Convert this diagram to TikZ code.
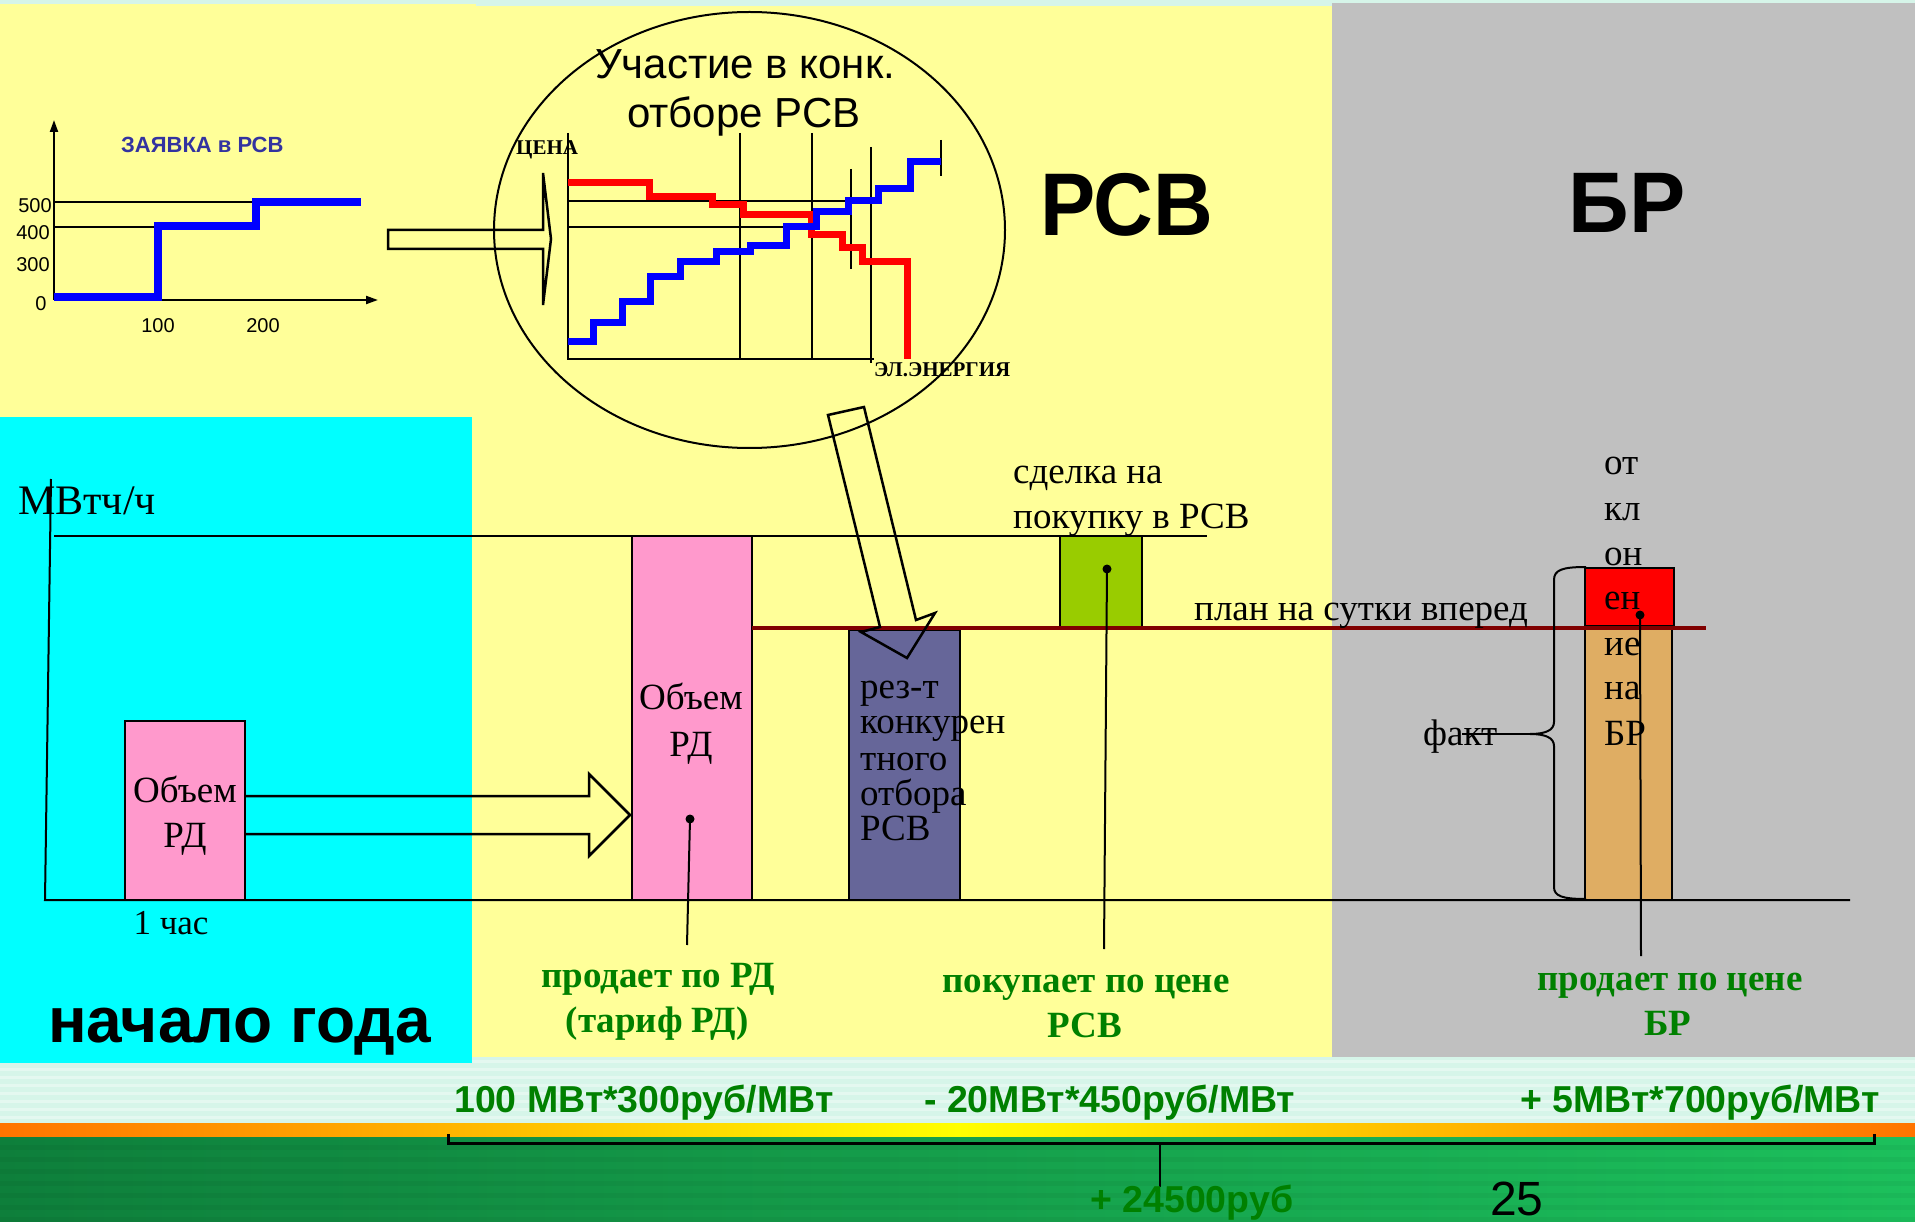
\documentclass[tikz,border=0pt]{standalone}
\usepackage{fontspec}
\usepackage{graphicx}
\setmainfont{Liberation Serif}
\newfontfamily\arialf{Liberation Sans}
\usetikzlibrary{arrows.meta}
\newcommand\fsz[1]{\fontsize{#1}{#1}\selectfont}
\definecolor{bgyellow}{HTML}{FFFF99}
\definecolor{bggrey}{HTML}{C0C0C0}
\definecolor{bgcyan}{HTML}{00FFFF}
\definecolor{bgmint}{HTML}{D6F5E9}
\definecolor{rdpink}{HTML}{FF99CC}
\definecolor{rsvpurple}{HTML}{666699}
\definecolor{dealgreen}{HTML}{99CC00}
\definecolor{factan}{HTML}{DFAD63}
\definecolor{planred}{HTML}{800000}
\definecolor{txtgreen}{HTML}{008000}
\definecolor{bidblue}{HTML}{0000FF}
\definecolor{titleblue}{HTML}{3333A0}
\definecolor{slgreenL}{HTML}{0E7F3B}
\definecolor{slgreenR}{HTML}{1CC05C}
\definecolor{bandorange}{HTML}{FF7400}
\begin{document}
\begin{tikzpicture}[x=1pt,y=-1pt,
  lbl/.style={inner sep=0pt, anchor=base},
  lblw/.style={inner sep=0pt, anchor=base west},
  serif/.style={font=\fsz{37}},
  greenlbl/.style={lbl, text=txtgreen, font=\bfseries\fsz{37}},
  sumlbl/.style={lblw, text=txtgreen, font=\arialf\bfseries\fsz{37.5}},
  thinl/.style={line width=2pt},
  hollow/.style={draw, line width=2.5pt, line join=miter},
  bar/.style={draw, line width=2pt, inner sep=0pt},
  stepline/.style={line width=7pt, line join=miter},
  axarrow/.style={line width=2pt, -{Triangle[length=12pt,width=8pt]}}
]
\useasboundingbox (0,0) rectangle (1915,1222);
% ---------- background
\fill[bgmint] (0,0) rectangle (1915,1123);
\foreach \yy in {1060,1068,...,1120} \fill[white,opacity=0.35] (0,\yy) rectangle (1915,\yy+3);
\shade[left color=bandorange, right color=bandorange, middle color=yellow] (0,1123) rectangle (1915,1137);
\shade[left color=slgreenL, right color=slgreenR] (0,1137) rectangle (1915,1222);
\foreach \yy in {1145,1157,...,1220} \fill[black,opacity=0.04] (0,\yy) rectangle (1915,\yy+5);
\fill[bgyellow] (0,4) rectangle (476,417);
\fill[bgyellow] (472,6) rectangle (1332,1057);
\fill[bggrey] (1332,3) rectangle (1915,1057);
\fill[bgcyan] (0,417) rectangle (472,1063);

% ---------- top-left bid chart
\draw[axarrow] (54,300) -- (54,120);
\draw[axarrow] (54,300) -- (378,300);
\draw[thinl] (54,202) -- (262,202);
\draw[thinl] (54,227) -- (159,227);
\draw[bidblue, line width=8pt, line join=miter] (54,297) -- (158,297) -- (158,226) -- (256,226) -- (256,202) -- (361,202);
\node[lblw, text=titleblue, font=\arialf\bfseries\fsz{22}] (bidtitle) at (121,153) {ЗАЯВКА в РСВ};
\node[lbl, font=\arialf\fsz{20}] (y500) at (35,213) {500};
\node[lbl, font=\arialf\fsz{20}] (y400) at (33,240) {400};
\node[lbl, font=\arialf\fsz{20}] (y300) at (33,272) {300};
\node[lbl, font=\arialf\fsz{20}] (y0) at (41,311) {0};
\node[lbl, font=\arialf\fsz{20}] (x100) at (158,333) {100};
\node[lbl, font=\arialf\fsz{20}] (x200) at (263,333) {200};

% ---------- ellipse with auction chart
\draw[line width=2pt] (749.5,230) ellipse [x radius=255.5pt, y radius=218pt];
\node[lblw, font=\arialf\fsz{42}] (title1) at (595,79) {Участие в конк.};
\node[lblw, font=\arialf\fsz{42}] (title2) at (627,128) {отборе РСВ};
\draw[thinl] (568,133) -- (568,359) -- (874,359);
\draw[thinl] (740,133) -- (740,359);
\draw[thinl] (812,133) -- (812,359);
\draw[thinl] (851,169) -- (851,269);
\draw[thinl] (871,147) -- (871,363);
\draw[thinl] (941,140) -- (941,176);
\draw[thinl] (568,201) -- (848,201);
\draw[thinl] (568,227) -- (788,227);
\draw[red, stepline] (568,183) -- (649,183) -- (649,197) -- (712,197) -- (712,205) -- (743,205) -- (743,215) -- (811,215) -- (811,235) -- (842,235) -- (842,248) -- (862,248) -- (862,262) -- (907,262) -- (907,359);
\draw[bidblue, stepline] (568,342) -- (593,342) -- (593,323) -- (622,323) -- (622,302) -- (650,302) -- (650,277) -- (680,277) -- (680,262) -- (716,262) -- (716,252) -- (750,252) -- (750,246) -- (786,246) -- (786,227) -- (816,227) -- (816,212) -- (848,212) -- (848,201) -- (878,201) -- (878,189) -- (910,189) -- (910,162) -- (941,162);
\node[lblw, font=\bfseries\fsz{21}] (price) at (516,155) {ЦЕНА};
\node[lblw, font=\bfseries\fsz{21}] (energy) at (874,377) {ЭЛ.ЭНЕРГИЯ};
\draw[hollow] (388,230) -- (543,230) -- (543,173) -- (551,239) -- (543,305) -- (543,249) -- (388,249) -- cycle;

% ---------- section titles
\node[inner sep=0pt] (rsvhead) at (1127,205) {\scalebox{0.93}[1]{\arialf\bfseries\fsz{89}РСВ}};
\node[inner sep=0pt] (brhead) at (1627,203) {\scalebox{0.98}[1]{\arialf\bfseries\fsz{86}БР}};

% ---------- main chart
\draw[thinl] (51,479) -- (45,900) -- (1850,900);
\draw[thinl] (54,536) -- (1207,536);
\node[lblw, font=\fsz{42}] (unit) at (18,514) {МВтч/ч};

\node[bar, fill=rdpink, minimum width=120pt, minimum height=179pt] (rdsmall) at (185,810.5) {};
\node[bar, fill=rdpink, minimum width=120pt, minimum height=364pt] (rdbig) at (692,718) {};
\node[bar, fill=rsvpurple, minimum width=111pt, minimum height=270pt] (rsvres) at (904.5,765) {};
\node[bar, fill=dealgreen, minimum width=82pt, minimum height=92pt] (deal) at (1101,582) {};
\node[bar, fill=red, minimum width=89pt, minimum height=58pt] (dev) at (1629.5,597) {};
\node[bar, fill=factan, minimum width=87pt, minimum height=272pt] (fact) at (1628.5,764) {};

\draw[planred, line width=4.5pt] (752,628) -- (1706,628);

\node[lbl, font=\fsz{37}] (rs1) at (185,802) {Объем};
\node[lbl, font=\fsz{37}] (rs2) at (185,847) {РД};
\node[lbl, font=\fsz{37}] (rb1) at (691,709) {Объем};
\node[lbl, font=\fsz{37}] (rb2) at (691,756) {РД};
\node[lbl, font=\fsz{35}] (hour) at (171,934) {1 час};

\node[lblw, serif] (p1) at (860,698) {рез-т};
\node[lblw, serif] (p2) at (860,733) {конкурен};
\node[lblw, serif] (p3) at (860,770) {тного};
\node[lblw, serif] (p4) at (860,805) {отбора};
\node[lblw, serif] (p5) at (860,840) {РСВ};

\node[lblw, serif] (deal1) at (1013,483) {сделка на};
\node[lblw, serif] (deal2) at (1013,528) {покупку в РСВ};
\node[lblw, serif] (plan) at (1194,620) {план на сутки вперед};
\node[lblw, serif] (facttxt) at (1423,745) {факт};

\node[lblw, serif] (v1) at (1604,475) {от};
\node[lblw, serif] (v2) at (1604,520) {кл};
\node[lblw, serif] (v3) at (1604,565) {он};
\node[lblw, serif] (v4) at (1604,609) {ен};
\node[lblw, serif] (v5) at (1604,655) {ие};
\node[lblw, serif] (v6) at (1604,699) {на};
\node[lblw, serif] (v7) at (1604,745) {БР};

% hollow arrows
\draw[hollow] (245,796) -- (589,796) -- (589,774) -- (630,815) -- (589,856) -- (589,834) -- (245,834);
\draw[hollow] (828,415) -- (864,407) -- (916,620) -- (935,613) -- (907,658) -- (861,632) -- (880,627) -- cycle;

% brace "факт"
\coordinate (bracetip) at (1530,734);
\coordinate (factend) at (1462,734);
\draw[thinl] (1586,567) .. controls (1562,567) and (1554,570) .. (1554,580) -- (1554,722) .. controls (1554,730) and (1546,734) .. (bracetip) .. controls (1546,734) and (1554,738) .. (1554,746) -- (1554,887) .. controls (1554,896) and (1562,899) .. (1586,899);
\draw[thinl] (factend) -- (bracetip);

% dots and leader lines
\coordinate (dotA) at (690,819);
\coordinate (endA) at (687,945);
\coordinate (dotB) at (1107,569);
\coordinate (endB) at (1104,949);
\coordinate (dotC) at (1640,615);
\coordinate (endC) at (1641,956);
\fill (dotA) circle [radius=4.5pt];
\fill (dotB) circle [radius=4.5pt];
\fill (dotC) circle [radius=4.5pt];
\draw[thinl] (dotA) -- (endA);
\draw[thinl] (dotB) -- (endB);
\draw[thinl] (dotC) -- (endC);

\node[greenlbl] (g1a) at (658,987) {продает по РД};
\node[greenlbl] (g1b) at (657,1032) {(тариф РД)};
\node[greenlbl] (g2a) at (1086,992) {покупает по цене};
\node[greenlbl] (g2b) at (1085,1037) {РСВ};
\node[greenlbl] (g3a) at (1670,990) {продает по цене};
\node[greenlbl] (g3b) at (1668,1035) {БР};

\node[lblw, font=\arialf\bfseries\fsz{64}] (yearstart) at (48,1042) {начало года};

% ---------- bottom sums
\node[sumlbl] (s1) at (454,1112) {100 МВт*300руб/МВт};
\node[sumlbl] (s2) at (924,1112) {- 20МВт*450руб/МВт};
\node[sumlbl] (s3) at (1520,1112) {+ 5МВт*700руб/МВт};
\coordinate (brL) at (448,1134);
\coordinate (brR) at (1874,1134);
\coordinate (brM) at (1160,1143);
\coordinate (brS) at (1160,1187);
\draw[line width=3pt] (brL) -- (448,1143) -- (1874,1143) -- (brR);
\draw[line width=1.5pt] (brM) -- (brS);
\node[sumlbl] (total) at (1090,1212) {+ 24500руб};
\node[lblw, font=\arialf\fsz{48}] (pagenum) at (1490,1215) {25};
\end{tikzpicture}
\end{document}
